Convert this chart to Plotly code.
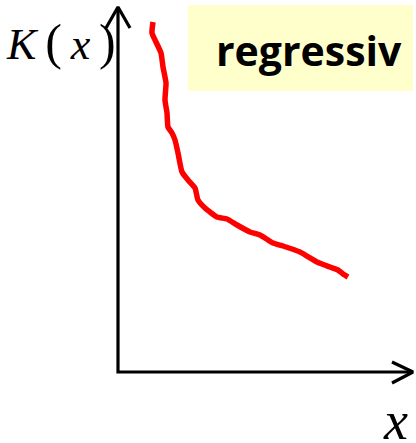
import plotly.graph_objects as go

# Cost curve K(x): hand-drawn regressive shape, origin at the axis corner
curve_x = [35, 34, 38, 43, 45, 48, 47, 49, 50, 54, 57, 60, 64, 70, 77, 80, 87,
           99, 109, 119, 132, 142, 155, 165, 182, 199, 212, 220, 225, 230]
curve_y = [350, 339, 330, 319, 305, 289, 272, 259, 245, 239, 232, 219, 200, 192,
           184, 172, 164, 155, 153, 147, 140, 137, 129, 126, 120, 110, 105, 102,
           98, 95]

y_label = ("<i>K</i>\u2009<span style='font-size:50px'>(</span>\u2009<i>x</i>\u2009"
           "<span style='font-size:50px'>)</span>")
x_label = "<i>x</i>"
tag_text = "<b>regressiv</b>"

# axis extents (same units as the curve)
x_min, x_max = -118, 298
y_min, y_max = -71, 372
axis_x_end = 295
axis_y_end = 365
head = 21
half = 12

fig = go.Figure()

# axes
fig.add_trace(go.Scatter(x=[0, 0, axis_x_end], y=[axis_y_end, 0, 0], mode="lines",
                         line=dict(color="black", width=3.2), hoverinfo="skip"))
fig.add_trace(go.Scatter(x=[-half, 0, half], y=[axis_y_end - head, axis_y_end, axis_y_end - head],
                         mode="lines", line=dict(color="black", width=3.2), hoverinfo="skip"))
fig.add_trace(go.Scatter(x=[axis_x_end - head, axis_x_end, axis_x_end - head], y=[half - 2, 0, -half + 1],
                         mode="lines", line=dict(color="black", width=3.2), hoverinfo="skip"))

# curve
fig.add_trace(go.Scatter(x=curve_x, y=curve_y, mode="lines",
                         line=dict(color="#FF0000", width=5.5, shape="spline", smoothing=0.5),
                         hoverinfo="skip"))

# label box
fig.add_shape(type="rect", xref="x", yref="y", x0=70, x1=295, y0=281, y1=367,
              fillcolor="#FFFFCC", line=dict(width=0), layer="below")
fig.add_annotation(x=191, y=322, text=tag_text, showarrow=False,
                   font=dict(family="Open Sans", size=41, color="black"),
                   xanchor="center", yanchor="middle")

fig.add_annotation(x=-57, y=330, text=y_label, showarrow=False,
                   font=dict(family="Liberation Serif", size=44, color="black"),
                   xanchor="center", yanchor="middle")
fig.add_annotation(x=277, y=-49, text=x_label, showarrow=False,
                   font=dict(family="Liberation Serif", size=54, color="black"),
                   xanchor="center", yanchor="middle")

fig.update_layout(
    width=416, height=443,
    margin=dict(l=0, r=0, t=0, b=0),
    paper_bgcolor="white", plot_bgcolor="white",
    showlegend=False,
    xaxis=dict(range=[x_min, x_max], visible=False, fixedrange=True),
    yaxis=dict(range=[y_min, y_max], visible=False, fixedrange=True),
)

fig.write_html("out.html")
